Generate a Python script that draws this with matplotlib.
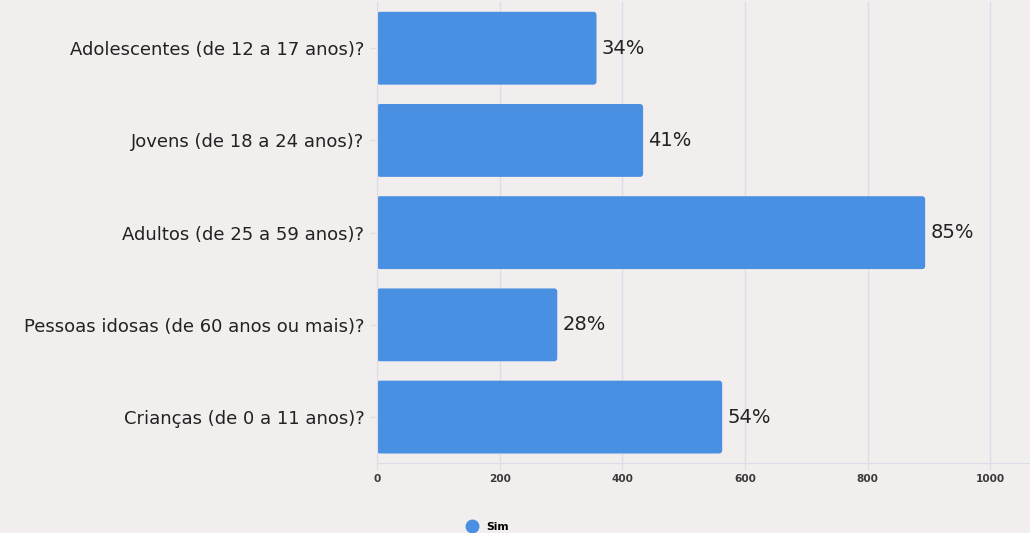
import matplotlib
matplotlib.use("Agg")
import matplotlib.pyplot as plt
from matplotlib.patches import FancyBboxPatch
from matplotlib.lines import Line2D

# data
categories = [
    "Adolescentes (de 12 a 17 anos)?",
    "Jovens (de 18 a 24 anos)?",
    "Adultos (de 25 a 59 anos)?",
    "Pessoas idosas (de 60 anos ou mais)?",
    "Crianças (de 0 a 11 anos)?",
]
values = [358, 434, 894, 294, 563]
pct_labels = ["34%", "41%", "85%", "28%", "54%"]
xticks = [0, 200, 400, 600, 800, 1000]
series_name = "Sim"

bg = "#f1eeed"
bar_color = "#4a90e2"
grid_color = "#dcdde9"

fig = plt.figure(figsize=(10.3, 5.33), dpi=100, facecolor=bg)
ax = fig.add_axes([0.366, 0.131, 0.634, 0.865])
ax.set_facecolor(bg)

ypos = list(range(len(categories)))
bars = ax.barh(ypos, values, height=0.79, color=bar_color)

ax.set_xlim(0, 1065)
ax.set_ylim(4.5, -0.5)

# swap the plain bars for ones with small rounded corners
px_x = 1065 / (0.634 * 1030)
px_y = 5 / (0.865 * 533)
for b in bars:
    b.set_visible(False)
    x0, y0 = b.get_x(), b.get_y()
    w, h = b.get_width(), b.get_height()
    p = FancyBboxPatch((x0, y0), w, h,
                       boxstyle="round,pad=0,rounding_size=%f" % (3 * px_x),
                       mutation_aspect=px_y / px_x,
                       facecolor=bar_color, edgecolor="none")
    ax.add_patch(p)

for y, v, lab in zip(ypos, values, pct_labels):
    ax.text(v + 5 * px_x, y, lab, va="center", ha="left",
            fontsize=14, color="#222222")

ax.set_yticks(ypos)
ax.set_yticklabels(categories, fontsize=13, color="#222222")
ax.set_xticks(xticks)
ax.set_xticklabels([str(t) for t in xticks], fontsize=7.6,
                   fontweight="bold", color="#3a3a3a")
ax.tick_params(axis="y", length=5, color=grid_color, pad=4)
ax.tick_params(axis="x", length=5, color=grid_color, pad=3)

ax.grid(axis="x", color=grid_color, linewidth=1)
ax.set_axisbelow(True)
for s in ["top", "right"]:
    ax.spines[s].set_visible(False)
ax.spines["left"].set_color(grid_color)
ax.spines["bottom"].set_color(grid_color)

handle = Line2D([], [], marker="o", linestyle="none", markersize=9,
                markerfacecolor=bar_color, markeredgecolor=bar_color)
fig.legend([handle], [series_name], loc="center",
           bbox_to_anchor=(0.471, 0.012), frameon=False,
           prop={"weight": "bold", "size": 7.8},
           handletextpad=0.3, borderpad=0)

fig.savefig("out.png", dpi=100, facecolor=bg)
